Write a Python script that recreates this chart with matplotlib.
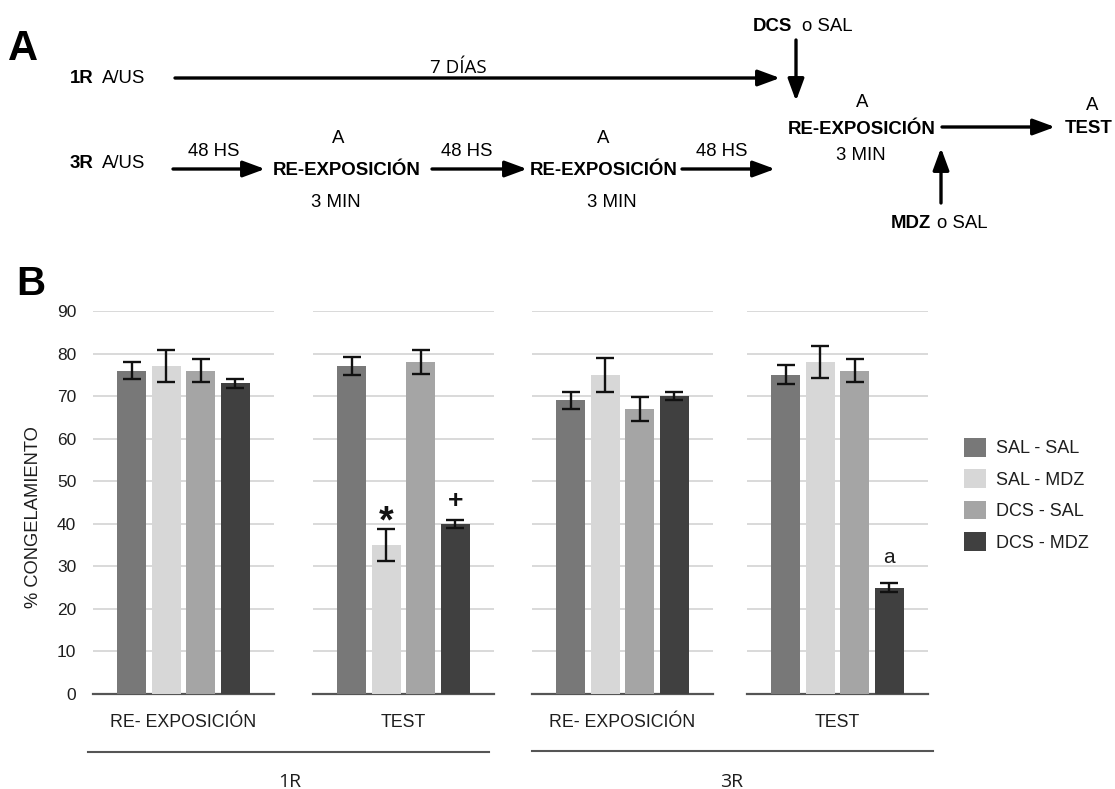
import matplotlib
matplotlib.use("Agg")
import matplotlib.pyplot as plt
from matplotlib.patches import Patch
import numpy as np

plt.rcParams['font.family'] = ['Liberation Sans', 'DejaVu Sans']

# ---- data (% freezing, mean and SEM) ----
groups = ["SAL - SAL", "SAL - MDZ", "DCS - SAL", "DCS - MDZ"]
colors = ["#787878", "#d7d7d7", "#a5a5a5", "#404040"]
phases = ["RE- EXPOSICIÓN", "TEST", "RE- EXPOSICIÓN", "TEST"]
conditions = ["1R", "3R"]

r1_reexp = [76, 77, 76, 73]
r1_reexp_err = [2.0, 3.8, 2.7, 1.0]
r1_test = [77, 35, 78, 40]
r1_test_err = [2.1, 3.8, 2.8, 1.0]
r3_reexp = [69, 75, 67, 70]
r3_reexp_err = [2.0, 4.0, 2.8, 1.0]
r3_test = [75, 78, 76, 25]
r3_test_err = [2.2, 3.8, 2.8, 1.0]

means = [r1_reexp, r1_test, r3_reexp, r3_test]
errs = [r1_reexp_err, r1_test_err, r3_reexp_err, r3_test_err]

yticks = list(range(0, 100, 10))

W, H = 1115, 789
fig = plt.figure(figsize=(W / 100, H / 100), dpi=100)

# overlay in pixel coordinates for the schematic and free labels
ov = fig.add_axes([0, 0, 1, 1])
ov.set_xlim(0, W)
ov.set_ylim(H, 0)
ov.axis("off")

TXT = "#1e1e1e"

# ---- panel B: four bar panels ----
lefts = [93, 313, 532, 747]
ax_w, ax_top, ax_bot = 181, 311, 694
x = np.arange(4)
axes = []
for i, (m, e) in enumerate(zip(means, errs)):
    ax = fig.add_axes([lefts[i] / W, 1 - ax_bot / H, ax_w / W, (ax_bot - ax_top) / H])
    ax.bar(x, m, width=0.84, color=colors, zorder=3)
    ax.errorbar(x, m, yerr=e, fmt="none", ecolor="#111111", elinewidth=1.7,
                capsize=6.5, capthick=1.7, zorder=4)
    ax.set_xlim(-1.12, 4.12)
    ax.set_ylim(0, 90)
    ax.set_yticks(yticks)
    ax.yaxis.grid(True, color="#cfcfcf", lw=1.1, zorder=0)
    ax.set_axisbelow(True)
    for s in ["top", "right", "left"]:
        ax.spines[s].set_visible(False)
    ax.spines["bottom"].set_color("#555555")
    ax.spines["bottom"].set_linewidth(1.6)
    ax.set_xticks([])
    ax.tick_params(axis="y", length=0, pad=12, labelsize=12.5, labelcolor=TXT)
    if i > 0:
        ax.set_yticklabels([])
    ax.text(1.5, -0.085, phases[i], transform=ax.get_xaxis_transform(),
            ha="center", va="baseline", fontsize=12.8, color=TXT)
    axes.append(ax)

# significance marks
axes[1].text(1, 38.0, "*", ha="center", va="baseline", fontsize=27,
             fontweight="bold", color="#111111")
axes[1].text(3, 43.8, "+", ha="center", va="baseline", fontsize=19,
             fontweight="bold", color="#111111")
axes[3].text(3, 30.8, "a", ha="center", va="baseline", fontsize=15, color=TXT)

fig.text(34 / W, 1 - 517 / H, "% CONGELAMIENTO", rotation=90, ha="center",
         va="center", fontsize=13.2, color=TXT)

# grouping lines under the phases
ov.plot([88, 489], [752, 752], color="#555555", lw=1.5)
ov.plot([532, 933], [751, 751], color="#555555", lw=1.5)
ov.text(290, 787, conditions[0], ha="center", va="baseline", fontsize=14,
        family=["Open Sans", "DejaVu Sans"], color=TXT)
ov.text(732, 787, conditions[1], ha="center", va="baseline", fontsize=14,
        family=["Open Sans", "DejaVu Sans"], color=TXT)

# legend
handles = [Patch(facecolor=c, edgecolor="none") for c in colors]
fig.legend(handles, groups, loc="upper left",
           bbox_to_anchor=(964 / W, 1 - 438 / H), frameon=False, fontsize=13,
           handlelength=1.22, handleheight=1.22, handletextpad=0.55,
           labelspacing=0.66, borderpad=0, borderaxespad=0, labelcolor=TXT)

# panel letters
ov.text(8, 60, "A", fontsize=30, fontweight="bold", va="baseline", ha="left")
ov.text(16, 295, "B", fontsize=29, fontweight="bold", va="baseline", ha="left")

# ---- panel A: schematic protocol ----
fs = 13.4


def arrow(x0, y0, x1, y1):
    ov.annotate("", xy=(x1, y1), xytext=(x0, y0),
                arrowprops=dict(arrowstyle="-|>,head_length=0.95,head_width=0.35",
                                color="black", lw=2.4, mutation_scale=14,
                                shrinkA=0, shrinkB=0))


def bold_plain(x0, x1, y, b, p):
    ov.text(x0, y, b, fontsize=fs, fontweight="bold", ha="left", va="baseline")
    ov.text(x1, y, p, fontsize=fs, ha="left", va="baseline")


bold_plain(70, 102, 83, "1R", "A/US")
bold_plain(70, 102, 168, "3R", "A/US")
arrow(175, 78, 780, 78)
ov.text(458, 73, "7 DÍAS", fontsize=13.5, ha="center", va="baseline",
        family=["Open Sans", "DejaVu Sans"])

# repeated re-exposures (3R)
arrow(173, 169, 265, 169)
ov.text(214, 156, "48 HS", fontsize=fs, ha="center", va="baseline")
ov.text(338, 143, "A", fontsize=fs, ha="center", va="baseline")
ov.text(347, 175, "RE-EXPOSICIÓN", fontsize=fs, fontweight="bold", ha="center", va="baseline")
ov.text(336, 207, "3 MIN", fontsize=fs, ha="center", va="baseline")

arrow(432, 169, 527, 169)
ov.text(467, 156, "48 HS", fontsize=fs, ha="center", va="baseline")
ov.text(603, 143, "A", fontsize=fs, ha="center", va="baseline")
ov.text(604, 175, "RE-EXPOSICIÓN", fontsize=fs, fontweight="bold", ha="center", va="baseline")
ov.text(612, 207, "3 MIN", fontsize=fs, ha="center", va="baseline")

arrow(682, 169, 775, 169)
ov.text(722, 156, "48 HS", fontsize=fs, ha="center", va="baseline")

# final re-exposure with drug and test
bold_plain(753, 802, 31, "DCS", "o SAL")
arrow(796, 40, 796, 101)
ov.text(862, 107, "A", fontsize=fs, ha="center", va="baseline")
ov.text(862, 134, "RE-EXPOSICIÓN", fontsize=fs, fontweight="bold", ha="center", va="baseline")
ov.text(861, 160, "3 MIN", fontsize=fs, ha="center", va="baseline")
arrow(942, 127, 1055, 127)
ov.text(1092, 110, "A", fontsize=fs, ha="center", va="baseline")
ov.text(1089, 133, "TEST", fontsize=fs, fontweight="bold", ha="center", va="baseline")
arrow(941, 203, 941, 148)
bold_plain(891, 937, 228, "MDZ", "o SAL")

fig.savefig("out.png", dpi=100, facecolor="white")
